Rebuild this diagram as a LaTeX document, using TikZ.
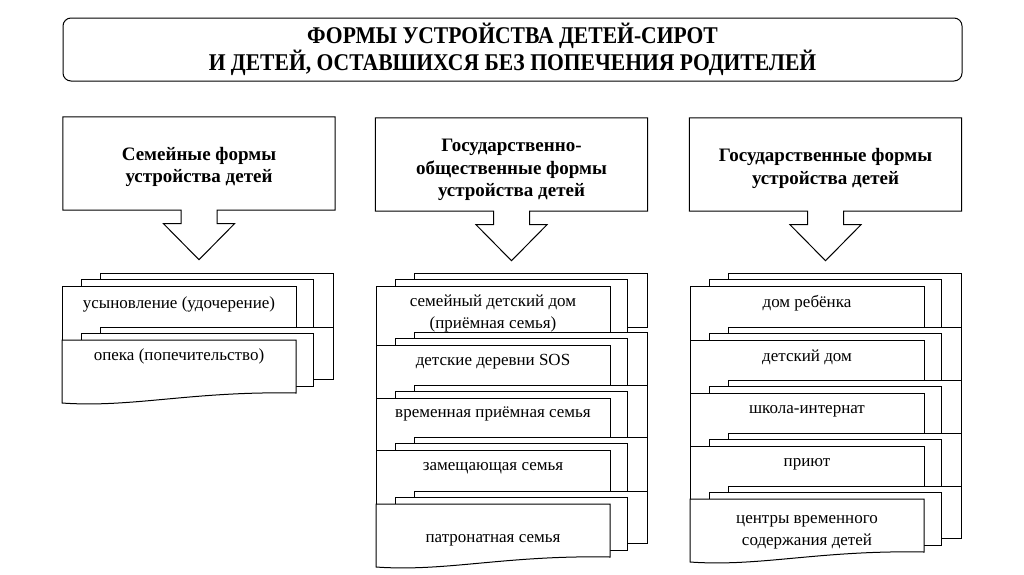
\documentclass[tikz,border=0pt]{standalone}
\usepackage{fontspec}
\setmainfont{Liberation Serif}[BoldFont={Liberation Serif Bold}, ItalicFont={Liberation Serif Italic}]
\newfontfamily\ttlfont{Liberation Serif Bold}[FakeStretch=0.9]
\newfontfamily\hdfont{Liberation Serif Bold}
\usetikzlibrary{calc}
\tikzset{
  ln/.style={draw=black, line width=1pt, fill=white},
  itemtxt/.style={font=\fontsize{17}{22}\selectfont, align=center, inner sep=0pt},
  oneline/.style={itemtxt, text height=12pt, text depth=4pt},
  hdrtxt/.style={font=\hdfont\fontsize{19}{22.5}\selectfont, align=center, inner sep=0pt},
  hdrbox/.style={minimum width=272pt, minimum height=93pt, inner sep=0pt},
  titlebox/.style={draw=black, line width=1pt, rounded corners=8pt, minimum width=899pt, minimum height=63pt, inner sep=0pt, font=\ttlfont\fontsize{24}{25}\selectfont, align=center},
}
\newcommand\mystack[5]{%
  \path[ln] (#1+38,#2) rectangle (#1+271,#2+#3);
  \path[ln] (#1+19,#2+6.5) rectangle (#1+251,#2+6.5+#4);
  \path[ln] (#1,#2+13) rectangle (#1+234,#2+13+#5);
}
\newcommand\mylast[2]{%
  \path[ln] (#1+38,#2) rectangle (#1+271,#2+52);
  \path[ln] (#1+19,#2+6.5) rectangle (#1+251,#2+59);
  \path[ln] (#1,#2+13) -- (#1+234,#2+13) -- (#1+234,#2+66)
    .. controls (#1+129,#2+64) and (#1+70,#2+81) .. (#1,#2+76) -- cycle;
}
\newcommand\myhdr[1]{%
  \path[ln] (#1.south west) -- (#1.north west) -- (#1.north east) -- (#1.south east)
    -- ($(#1.south)+(18,0)$) -- ($(#1.south)+(18,13.5)$) -- ($(#1.south)+(35.5,13.5)$)
    -- ($(#1.south)+(0,49.5)$) -- ($(#1.south)+(-35.5,13.5)$) -- ($(#1.south)+(-18,13.5)$)
    -- ($(#1.south)+(-18,0)$) -- cycle;
}
\begin{document}
\begin{tikzpicture}[x=1pt, y=-1pt]
\fill[white] (0,0) rectangle (1024,574);
\useasboundingbox (0,0) rectangle (1024,574);

% title
\node[titlebox] (title) at (512.5,49.5) {ФОРМЫ УСТРОЙСТВА ДЕТЕЙ-СИРОТ\\И ДЕТЕЙ, ОСТАВШИХСЯ БЕЗ ПОПЕЧЕНИЯ РОДИТЕЛЕЙ};

% header boxes
\node[hdrbox] (h1) at (199,163.5) {};
\node[hdrbox] (h2) at (511.5,164.5) {};
\node[hdrbox] (h3) at (825.5,164.5) {};
\myhdr{h1}
\myhdr{h2}
\myhdr{h3}
\node[hdrtxt] (h1t) at (199,167) {Семейные формы\\устройства детей};
\node[hdrtxt] (h2t) at (511.5,170) {Государственно-\\общественные формы\\устройства детей};
\node[hdrtxt] (h3t) at (825.5,168.5) {Государственные формы\\устройства детей};

% left column
\mystack{62}{273}{54}{54}{54}
\mylast{62}{327}
\node[oneline] (a1) at (179,304) {усыновление (удочерение)};
\node[oneline] (a2) at (179,356) {опека (попечительство)};

% middle column
\mystack{376}{273}{54}{59}{59}
\mystack{376}{332}{53}{53}{53}
\mystack{376}{385}{52}{52}{52}
\mystack{376}{437}{54}{54}{54}
\mylast{376}{491}
\node[itemtxt] (b1) at (493,313) {семейный детский дом\\(приёмная семья)};
\node[oneline] (b2) at (493,361) {детские деревни SOS};
\node[oneline] (b3) at (493,413) {временная приёмная семья};
\node[oneline] (b4) at (493,466) {замещающая семья};
\node[oneline] (b5) at (493,538) {патронатная семья};

% right column
\mystack{690}{273}{54}{54}{54}
\mystack{690}{327}{53}{53}{53}
\mystack{690}{380}{53}{53}{53}
\mystack{690}{433}{53}{53}{53}
\mylast{690}{486}
\node[oneline] (c1) at (807,303) {дом ребёнка};
\node[oneline] (c2) at (807,357) {детский дом};
\node[oneline] (c3) at (807,409) {школа-интернат};
\node[oneline] (c4) at (807,462) {приют};
\node[itemtxt] (c5) at (807,532) {центры временного\\содержания детей};
\end{tikzpicture}
\end{document}
